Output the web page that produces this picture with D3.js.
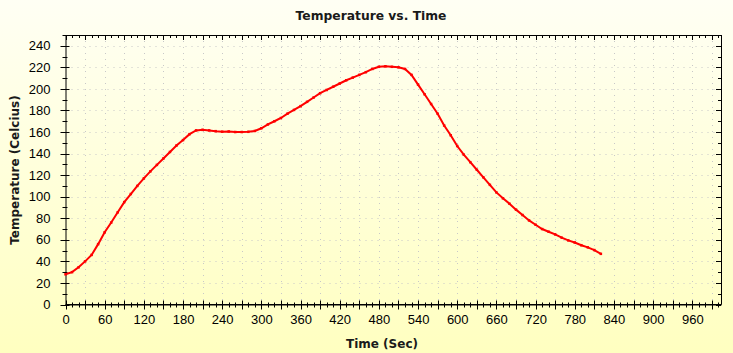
<!DOCTYPE html>
<html lang="en">
<head>
	<meta charset="utf-8">
	<title>Temperature vs. Time</title>
	<script type="text/javascript" src="https://cdn.jsdelivr.net/npm/d3@7"></script>
	<style type="text/css">
		body { margin: 0; background: #ffffe0; }
		svg { display: block; }
	</style>
</head>
<body>
<script type="text/javascript">
	// data: time (sec) and temperature (celcius)
	var times = [0,10,20,30,40,50,60,70,80,90,100,110,120,130,140,150,160,170,180,190,
		200,210,220,230,240,250,260,270,280,290,300,310,320,330,340,350,360,370,380,390,
		400,410,420,430,440,450,460,470,480,490,500,510,520,530,540,550,560,570,580,590,
		600,610,620,630,640,650,660,670,680,690,700,710,720,730,740,750,760,770,780,790,
		800,810,820];
	var temps = [28,30,34.5,40,46,56,67,76,85.5,95,102.5,110,117,123.5,129.5,135.5,141.5,147.5,152.5,158,
		161.5,162,161.5,160.8,160.3,160.5,160,160,160.2,161,163.5,167,170,173,177,180.5,184,188,192,196,
		199,202,205,208,210.5,213,215.5,218.5,220.5,221,220.5,220,218.5,213,204,195,186,177,166,157,
		147,139,132,125,118,111,104,98.5,93.5,88,83,78,74,70,67.5,65,62,59.5,57.5,55,
		53,50.5,47];
	var xTicks = [0,60,120,180,240,300,360,420,480,540,600,660,720,780,840,900,960];
	var yTicks = [0,20,40,60,80,100,120,140,160,180,200,220,240];

	var w = 733, h = 353;
	var pLeft = 65.5, pRight = 721, pTop = 35, pBottom = 304.5;

	var svg = d3.select("body").append("svg")
		.attr("width", w)
		.attr("height", h);

	// yellow background fade
	var grad = svg.append("defs").append("linearGradient")
		.attr("id", "bg")
		.attr("x1", 0).attr("y1", 0).attr("x2", 0).attr("y2", 1);
	grad.append("stop").attr("offset", "0%").attr("stop-color", "#fffff4");
	grad.append("stop").attr("offset", "100%").attr("stop-color", "#ffffc0");
	svg.append("rect")
		.attr("width", w).attr("height", h)
		.attr("fill", "url(#bg)");

	var xScale = d3.scaleLinear().domain([0, 1004]).range([pLeft, pRight]);
	var yScale = d3.scaleLinear().domain([0, 250]).range([pBottom, pTop]);

	// dotted grid
	var gx = d3.range(30, 1000, 30);
	var gy = d3.range(20, 250, 20);
	svg.append("g").selectAll("line")
		.data(gx).enter().append("line")
		.attr("x1", function(d){ return Math.round(xScale(d)) + 0.5 })
		.attr("x2", function(d){ return Math.round(xScale(d)) + 0.5 })
		.attr("y1", pTop).attr("y2", pBottom)
		.attr("stroke", "#c8c8c8")
		.attr("stroke-dasharray", "1,5");
	svg.append("g").selectAll("line")
		.data(gy).enter().append("line")
		.attr("y1", function(d){ return Math.round(yScale(d)) + 0.5 })
		.attr("y2", function(d){ return Math.round(yScale(d)) + 0.5 })
		.attr("x1", pLeft).attr("x2", pRight)
		.attr("stroke", "#c8c8c8")
		.attr("stroke-dasharray", "1,5");

	// bottom axis
	var xAxis = d3.axisBottom(xScale)
		.tickValues(xTicks)
		.tickSize(0)
		.tickPadding(10)
		.tickFormat(d3.format("d"));
	var ax = svg.append("g")
		.attr("transform", "translate(0," + pBottom + ")")
		.call(xAxis);
	ax.select(".domain").attr("stroke", "#000");
	ax.selectAll("text")
		.attr("font-family", "Liberation Sans, Arial, sans-serif")
		.attr("font-size", "13px")
		.attr("fill", "#000");

	// left axis
	var yAxis = d3.axisLeft(yScale)
		.tickValues(yTicks)
		.tickSize(0)
		.tickPadding(15);
	var ay = svg.append("g")
		.attr("transform", "translate(" + pLeft + ",0)")
		.call(yAxis);
	ay.select(".domain").attr("stroke", "#000");
	ay.selectAll("text")
		.attr("font-family", "Liberation Sans, Arial, sans-serif")
		.attr("font-size", "13px")
		.attr("fill", "#000");

	// tick marks on all four sides
	var tx = d3.range(0, 1001, 10);
	var ty = d3.range(0, 251, 10);
	var ticks = svg.append("g").attr("stroke", "#000").attr("stroke-width", 1);
	tx.forEach(function(d){
		var x = Math.round(xScale(d)) + 0.5;
		var big = d % 30 == 0;
		ticks.append("line").attr("x1", x).attr("x2", x)
			.attr("y1", pBottom - (big ? 4 : 2)).attr("y2", pBottom + (big ? 5 : 3));
		ticks.append("line").attr("x1", x).attr("x2", x)
			.attr("y1", pTop).attr("y2", pTop + (big ? 5 : 3));
	});
	ty.forEach(function(d){
		var y = Math.round(yScale(d)) + 0.5;
		var big = d % 20 == 0;
		ticks.append("line").attr("y1", y).attr("y2", y)
			.attr("x1", pLeft - (big ? 5 : 3)).attr("x2", pLeft + (big ? 4 : 2));
		ticks.append("line").attr("y1", y).attr("y2", y)
			.attr("x1", pRight).attr("x2", pRight - (big ? 5 : 3));
	});
	// frame top and right
	ticks.append("line").attr("x1", pLeft).attr("x2", pRight + 0.5).attr("y1", pTop + 0.5).attr("y2", pTop + 0.5);
	ticks.append("line").attr("x1", pRight + 0.5).attr("x2", pRight + 0.5).attr("y1", pTop).attr("y2", pBottom);
	ticks.append("line").attr("x1", pLeft).attr("x2", pRight + 0.5).attr("y1", pBottom).attr("y2", pBottom);

	// the temperature curve
	var pts = times.map(function(t, i){ return [t, temps[i]] });
	var line = d3.line()
		.x(function(d){ return xScale(d[0]) })
		.y(function(d){ return yScale(d[1]) });
	svg.append("path")
		.datum(pts)
		.attr("d", line)
		.attr("fill", "none")
		.attr("stroke", "#ff0000")
		.attr("stroke-width", 2);
	svg.append("g").selectAll("rect")
		.data(pts).enter().append("rect")
		.attr("x", function(d){ return xScale(d[0]) - 1.25 })
		.attr("y", function(d){ return yScale(d[1]) - 1.25 })
		.attr("width", 2.5).attr("height", 2.5)
		.attr("fill", "#ff0000");

	// titles
	svg.append("text")
		.text("Temperature vs. Time")
		.attr("x", 371).attr("y", 20)
		.attr("text-anchor", "middle")
		.attr("font-family", "DejaVu Sans, sans-serif")
		.attr("font-weight", "bold")
		.attr("font-size", "12.3px")
		.attr("fill", "#1a1a1a");
	svg.append("text")
		.text("Time (Sec)")
		.attr("x", 382).attr("y", 348)
		.attr("text-anchor", "middle")
		.attr("font-family", "DejaVu Sans, sans-serif")
		.attr("font-weight", "bold")
		.attr("font-size", "12px")
		.attr("fill", "#1a1a1a");
	svg.append("text")
		.text("Temperature (Celcius)")
		.attr("transform", "translate(19,170) rotate(-90)")
		.attr("text-anchor", "middle")
		.attr("font-family", "DejaVu Sans, sans-serif")
		.attr("font-weight", "bold")
		.attr("font-size", "12px")
		.attr("fill", "#1a1a1a");
</script>
</body>
</html>
